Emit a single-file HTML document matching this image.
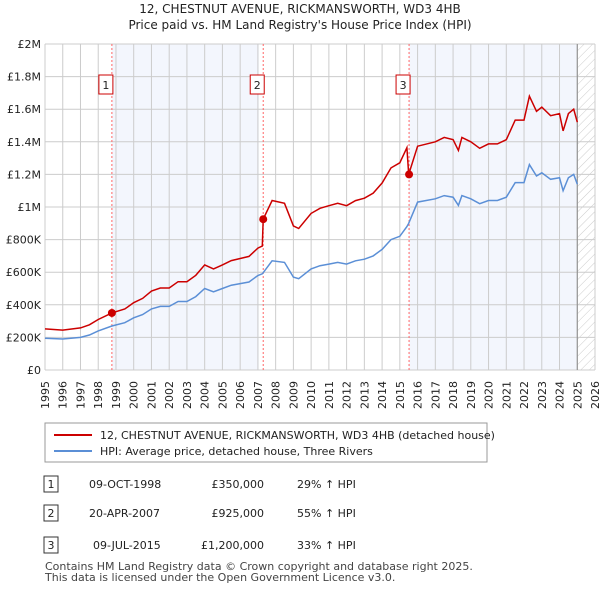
<!DOCTYPE html>
<html><head><meta charset="utf-8"><style>
body{margin:0;background:#fff;font-family:"Liberation Sans","DejaVu Sans",sans-serif;}
svg text{font-family:"DejaVu Sans","Liberation Sans",sans-serif;}
</style></head><body>
<svg id="c" width="600" height="590" xmlns="http://www.w3.org/2000/svg">
<defs><pattern id="hatch" width="6" height="6" patternUnits="userSpaceOnUse" patternTransform="rotate(45)"><line x1="0" y1="0" x2="0" y2="6" stroke="#ccc" stroke-width="1"/></pattern></defs>
<text x="300" y="13" text-anchor="middle" font-size="12" fill="#222">12, CHESTNUT AVENUE, RICKMANSWORTH, WD3 4HB</text>
<text x="300" y="29" text-anchor="middle" font-size="12" fill="#222">Price paid vs. HM Land Registry's House Price Index (HPI)</text>
<g id="plot"></g>
<g>
<rect x="45" y="423" width="442" height="39" fill="#fff" stroke="#999"/>
<line x1="54" y1="435" x2="92" y2="435" stroke="#c00" stroke-width="2"/>
<text x="100" y="439" font-size="11" fill="#222">12, CHESTNUT AVENUE, RICKMANSWORTH, WD3 4HB (detached house)</text>
<line x1="54" y1="451" x2="92" y2="451" stroke="#5b8fd6" stroke-width="2"/>
<text x="100" y="455" font-size="11" fill="#222">HPI: Average price, detached house, Three Rivers</text>
</g>
<g font-size="11" fill="#222">
<rect x="44" y="476" width="14" height="16" fill="#fff" stroke="#333"/><text x="51" y="488" text-anchor="middle">1</text>
<text x="89" y="488">09-OCT-1998</text><text x="264" y="488" text-anchor="end">£350,000</text><text x="297" y="488">29% ↑ HPI</text>
<rect x="44" y="505" width="14" height="16" fill="#fff" stroke="#333"/><text x="51" y="517" text-anchor="middle">2</text>
<text x="89" y="517">20-APR-2007</text><text x="264" y="517" text-anchor="end">£925,000</text><text x="297" y="517">55% ↑ HPI</text>
<rect x="44" y="537" width="14" height="16" fill="#fff" stroke="#333"/><text x="51" y="549" text-anchor="middle">3</text>
<text x="93" y="549">09-JUL-2015</text><text x="264" y="549" text-anchor="end">£1,200,000</text><text x="297" y="549">33% ↑ HPI</text>
</g>
<text x="45" y="570" font-size="11" fill="#444">Contains HM Land Registry data © Crown copyright and database right 2025.</text>
<text x="45" y="581" font-size="11" fill="#444">This data is licensed under the Open Government Licence v3.0.</text>
</svg>
<script>
const hpiYears=[1995,1996,1997,1997.5,1998,1998.77,1999.5,2000,2000.5,2001,2001.5,2002,2002.5,2003,2003.5,2004,2004.5,2005,2005.5,2006,2006.5,2007,2007.25,2007.3,2007.8,2008.5,2009,2009.3,2010,2010.5,2011,2011.5,2012,2012.5,2013,2013.5,2014,2014.5,2015,2015.4,2015.5,2016,2017,2017.5,2018,2018.3,2018.5,2019,2019.5,2020,2020.5,2021,2021.5,2022,2022.3,2022.7,2023,2023.5,2024,2024.2,2024.5,2024.8,2025];
const hpiValues=[195,190,200,215,240,270,290,320,340,375,390,390,420,420,450,500,480,500,520,530,540,580,590,597,670,660,570,560,620,640,650,660,650,670,680,700,740,800,820,880,900,1030,1050,1070,1060,1010,1070,1050,1020,1040,1040,1060,1150,1150,1260,1190,1210,1170,1180,1100,1180,1200,1140];
const propertyValues=[252,245,258,277,310,350,374,413,439,484,503,503,542,542,581,645,620,645,671,684,697,748,761,925,1040,1023,884,868,961,992,1008,1023,1008,1039,1054,1085,1147,1240,1271,1364,1200,1373,1400,1427,1413,1347,1427,1400,1360,1387,1387,1413,1533,1533,1680,1587,1613,1560,1573,1467,1573,1600,1520];
const saleYears=[1998.77,2007.3,2015.52];
const saleValues=[350,925,1200];
const saleLabels=["1","2","3"];
const yTicks=[0,200,400,600,800,1000,1200,1400,1600,1800,2000];
const yTickLabels=["£0","£200K","£400K","£600K","£800K","£1M","£1.2M","£1.4M","£1.6M","£1.8M","£2M"];
const xTicks=[1995,1996,1997,1998,1999,2000,2001,2002,2003,2004,2005,2006,2007,2008,2009,2010,2011,2012,2013,2014,2015,2016,2017,2018,2019,2020,2021,2022,2023,2024,2025,2026];

const X0=45,X1=595,Y0=370,Y1=44;
const xs=t=>X0+(t-1995)/(2026-1995)*(X1-X0);
const ys=v=>Y0-v/2000*(Y0-Y1);
const NS="http://www.w3.org/2000/svg";
const g=document.getElementById('plot');
function mk(tag,attrs,parent){const e=document.createElementNS(NS,tag);for(const k in attrs)e.setAttribute(k,attrs[k]);(parent||g).appendChild(e);return e;}
let e;
e=mk('rect',{x:xs(saleYears[0]),y:Y1,width:xs(2007.05)-xs(saleYears[0]),height:Y0-Y1,fill:'#f3f6fd'});


e=mk('rect',{x:xs(saleYears[2]),y:Y1,width:xs(2025)-xs(saleYears[2]),height:Y0-Y1,fill:'#f3f6fd'});


e=mk('rect',{x:xs(2025),y:Y1,width:X1-xs(2025),height:Y0-Y1,fill:'url(#hatch)'});


yTicks.forEach((v,i)=>{
  e=mk('line',{x1:X0,x2:X1,y1:ys(v),y2:ys(v),stroke:'#ccc','stroke-width':1});
  
  
  e=mk('text',{x:X0-4,y:ys(v)+4,'text-anchor':'end','font-size':11,fill:'#222'});
  e.textContent=yTickLabels[i];
  
  
});
xTicks.forEach(t=>{
  e=mk('line',{x1:xs(t),x2:xs(t),y1:Y1,y2:Y0,stroke:'#ccc','stroke-width':1});
  
  
  const tx=xs(t)+4;
  e=mk('text',{x:tx,y:381,'text-anchor':'end','font-size':11,fill:'#222',transform:'rotate(-90 '+tx+' 381)'});
  e.textContent=t;
  
  
});
e=mk('line',{x1:xs(2025),x2:xs(2025),y1:Y1,y2:Y0,stroke:'#888','stroke-width':1});


saleYears.forEach((t,i)=>{
  e=mk('line',{x1:xs(t),x2:xs(t),y1:Y1,y2:Y0,stroke:'#f66','stroke-width':1,'stroke-dasharray':'2,2'});
  
  
  e=mk('rect',{x:xs(t)-13,y:75,width:14,height:19,fill:'#fff',stroke:'#c00'});
  
  
  e=mk('text',{x:xs(t)-6,y:89,'text-anchor':'middle','font-size':11,fill:'#222'});
  e.textContent=saleLabels[i];
  
  
});
const pts=(xa,va)=>xa.map((t,i)=>xs(t).toFixed(1)+','+ys(va[i]).toFixed(1)).join(' ');
e=mk('polyline',{points:pts(hpiYears,hpiValues),fill:'none',stroke:'#5b8fd6','stroke-width':1.5});


e=mk('polyline',{points:pts(hpiYears,propertyValues),fill:'none',stroke:'#c00','stroke-width':1.5});


saleYears.forEach((t,i)=>{
  e=mk('circle',{cx:xs(t),cy:ys(saleValues[i]),r:4,fill:'#c00'});
  
  
});
</script>
</body></html>
